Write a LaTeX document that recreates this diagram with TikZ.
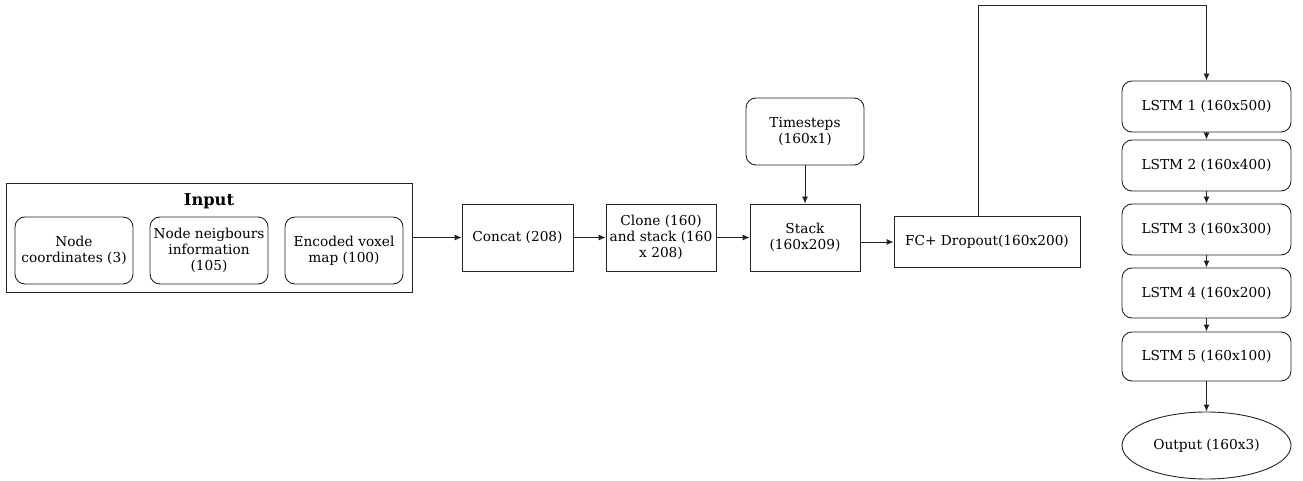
\documentclass[tikz,border=0pt]{standalone}
\usepackage{fontspec}
\setmainfont{DejaVu Serif}
\usetikzlibrary{arrows.meta,positioning,shapes.geometric}
\definecolor{linec}{RGB}{35,35,35}

\begin{document}
\begin{tikzpicture}[x=1pt,y=-1pt,font=\fontsize{13.7}{16}\selectfont,>={Latex[length=7pt,width=6pt]},line width=0.9pt]
\tikzstyle{blk}=[draw=linec,align=center,inner sep=2pt]
\tikzstyle{rblk}=[blk,rounded corners=10pt]
\useasboundingbox (0,0) rectangle (1303,481);
% input group
\node[blk,minimum width=406pt,minimum height=109pt] (inp) at (209,237.5) {};
\node[font=\fontsize{16.3}{18}\selectfont\bfseries] (ttl) at (209,201) {Input};
\node[rblk,minimum width=118pt,minimum height=67pt] (crd) at (74,250.5) {Node\\coordinates (3)};
\node[rblk,minimum width=118pt,minimum height=67pt] (nbr) at (209,250.5) {Node neigbours\\information\\(105)};
\node[rblk,minimum width=118pt,minimum height=67pt] (vox) at (344,250.5) {Encoded voxel\\map (100)};
% main chain
\node[blk,minimum width=111pt,minimum height=67pt] (cat) at (517.5,237.5) {Concat (208)};
\node[blk,minimum width=110pt,minimum height=67pt] (cln) at (661,237.5) {Clone (160)\\and stack (160\\x 208)};
\node[blk,minimum width=110pt,minimum height=67pt] (stk) at (805,237.5) {Stack\\(160x209)};
\node[rblk,minimum width=118pt,minimum height=67pt] (tim) at (805,131.5) {Timesteps\\(160x1)};
\node[blk,minimum width=186pt,minimum height=51pt] (fc) at (987,242) {FC+ Dropout(160x200)};
\draw[->,linec] (inp.east) -- (cat.west); \draw[->,linec] (cat) -- (cln); \draw[->,linec] (cln) -- (stk);
\draw[->,linec] (tim) -- (stk); \draw[->,linec] (stk.east |- fc.west) -- (fc.west);
% lstm stack
\foreach \i/\yy/\hh/\dims in {1/106.5/51/500,2/165.5/51/400,3/229.5/51/300,4/293/50/200,5/356.5/49/100}
  \node[rblk,minimum width=169pt,minimum height=\hh pt] (l\i) at (1206.5,\yy) {LSTM \i\ (160x\dims)};
\node[ellipse,draw=linec,minimum width=169pt,minimum height=67pt,inner sep=0pt] (out) at (1206.5,445.5) {Output (160x3)};
\coordinate (bend) at (1206.5,5);
\draw[->,linec] ([xshift=-9pt]fc.north) |- (bend) -- (l1.north);
\draw[->,linec] (l1) -- (l2); \draw[->,linec] (l2) -- (l3); \draw[->,linec] (l3) -- (l4);
\draw[->,linec] (l4) -- (l5); \draw[->,linec] (l5) -- (out);
\end{tikzpicture}
\end{document}
